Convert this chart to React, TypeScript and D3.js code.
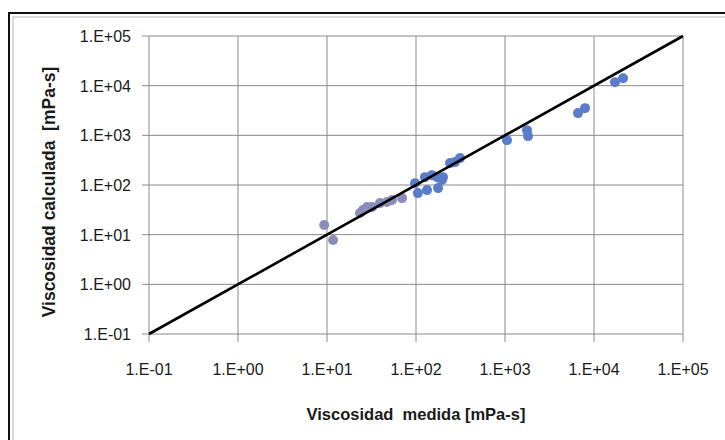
import React from "react";
import * as d3 from "d3";

// viscosity values [mPa-s]
const measuredLow = [9.3, 11.7, 23.5, 25.4, 28.1, 32, 39.4, 47.2, 53.7, 69.7];
const calculatedLow = [15.6, 7.8, 27.2, 31.3, 35.9, 35.9, 43.2, 45.3, 49.7, 54.5];

const measuredHigh = [
  97.5, 105, 126, 133, 151, 172, 177, 196, 201, 241, 274, 312, 1052, 1766, 1813,
  6610, 7925, 17200, 21200,
];
const calculatedHigh = [
  109, 68.7, 144, 78.9, 158, 144, 86.6, 126, 144, 276, 289, 348, 800, 1273, 964,
  2800, 3526, 11750, 14150,
];

const tickValues = [1e-1, 1e0, 1e1, 1e2, 1e3, 1e4, 1e5];
const tickLabels = ["1.E-01", "1.E+00", "1.E+01", "1.E+02", "1.E+03", "1.E+04", "1.E+05"];

const xTitle = "Viscosidad  medida [mPa-s]";
const yTitle = "Viscosidad calculada  [mPa-s]";

const width = 725;
const height = 440;
const plot = { left: 149, right: 683, top: 36, bottom: 334 };

export default function App() {
  const x = d3.scaleLog().domain([1e-1, 1e5]).range([plot.left, plot.right]);
  const y = d3.scaleLog().domain([1e-1, 1e5]).range([plot.bottom, plot.top]);

  const fitLine = d3
    .line<number>()
    .x((d) => x(d))
    .y((d) => y(d))([1e-1, 1e5]);

  const gridColor = "#8a8a8a";
  const font = "'Liberation Sans', Arial, sans-serif";

  return (
    <svg
      width={width}
      height={height}
      style={{ position: "absolute", left: 0, top: 0, background: "#fff" }}
    >
      {/* outer frame */}
      <rect x={9} y={13} width={800} height={500} fill="#fff" stroke="#111" strokeWidth={2} />
      <rect x={13} y={17} width={800} height={500} fill="none" stroke="#b5b5b5" strokeWidth={1} />

      {/* grid */}
      {tickValues.map((t) => (
        <g key={"g" + t}>
          <line x1={x(t)} x2={x(t)} y1={plot.top} y2={plot.bottom + 8} stroke={gridColor} strokeWidth={1} />
          <line x1={plot.left - 7} x2={plot.right} y1={y(t)} y2={y(t)} stroke={gridColor} strokeWidth={1} />
        </g>
      ))}

      {/* tick labels */}
      {tickValues.map((t, i) => (
        <text
          key={"xl" + t}
          x={x(t)}
          y={375}
          textAnchor="middle"
          fontFamily={font}
          fontSize={16}
          fill="#1a1a1a"
        >
          {tickLabels[i]}
        </text>
      ))}
      {tickValues.map((t, i) => (
        <text
          key={"yl" + t}
          x={131}
          y={y(t) + 6}
          textAnchor="end"
          fontFamily={font}
          fontSize={16}
          fill="#1a1a1a"
        >
          {tickLabels[i]}
        </text>
      ))}

      {/* points */}
      {measuredLow.map((m, i) => (
        <circle key={"a" + i} cx={x(m)} cy={y(calculatedLow[i])} r={5} fill="#8a8cba" />
      ))}
      {measuredHigh.map((m, i) => (
        <circle key={"b" + i} cx={x(m)} cy={y(calculatedHigh[i])} r={5} fill="#5b7bcb" />
      ))}

      {/* 1:1 line */}
      <path d={fitLine ?? ""} stroke="#000" strokeWidth={2.6} fill="none" />

      {/* axis titles */}
      <text
        x={(plot.left + plot.right) / 2}
        y={420}
        textAnchor="middle"
        fontFamily={font}
        fontWeight="bold"
        fontSize={16.5}
        fill="#1a1a1a"
        style={{ whiteSpace: "pre" }}
      >
        {xTitle}
      </text>
      <text
        transform={`translate(55,${192}) rotate(-90)`}
        textAnchor="middle"
        fontFamily={font}
        fontWeight="bold"
        fontSize={17.5}
        fill="#1a1a1a"
        style={{ whiteSpace: "pre" }}
      >
        {yTitle}
      </text>
    </svg>
  );
}
